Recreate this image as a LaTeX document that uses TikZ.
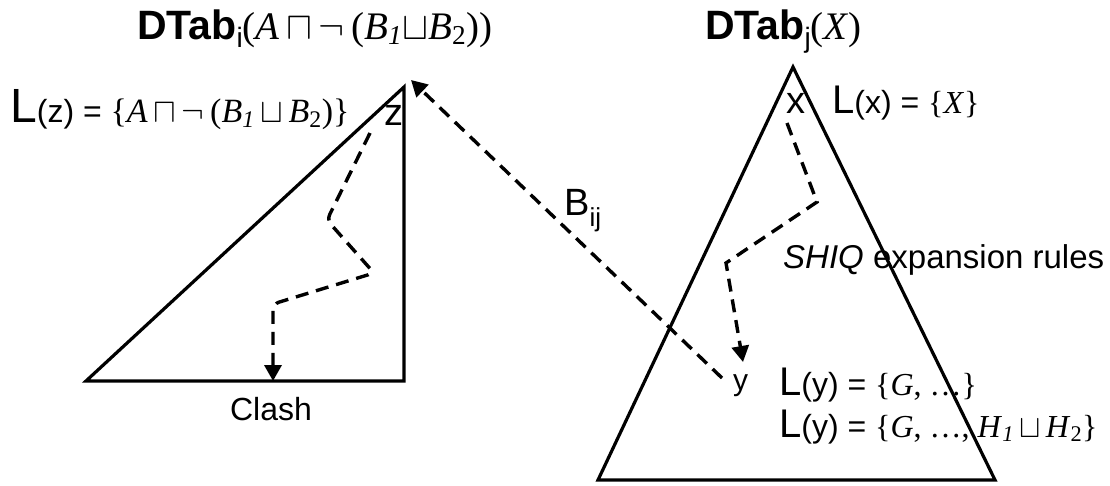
\RequirePackage{fix-cm}
\documentclass[tikz,border=0pt]{standalone}
\usepackage{fontspec}
\usepackage{amssymb}
\setmainfont{Liberation Sans}
\newfontfamily\tms{Liberation Serif}
\usetikzlibrary{arrows.meta}
\newcommand{\fs}[1]{\fontsize{#1}{#1}\selectfont}
\begin{document}
\begin{tikzpicture}[x=1pt,y=-1pt,
  solidline/.style={line width=3.2pt, line join=miter},
  dashline/.style={line width=3.4pt, dash pattern=on 13pt off 8pt, -{Triangle[length=16pt,width=17pt]}},
  lbl/.style={inner sep=0pt, anchor=base west}]
\useasboundingbox (0,0) rectangle (1110,485);
% triangles
\draw[solidline] (86,381) -- (404,381) -- (404,87) -- cycle;
\draw[solidline] (793,67) -- (598,480) -- (995,480) -- cycle;
% labels
\node[lbl] (ti) at (137,39) {\fs{41}\bfseries DTab\raisebox{-8pt}{\fs{28}\mdseries i}\mdseries\fs{39}\tms(\textit{A}\,$\sqcap$\,$\neg$\,(\textit{B}\textsubscript{\textit{1}}$\sqcup$\textit{B}\textsubscript{2}))};
\node[lbl] (tj) at (705,39) {\fs{41}\bfseries DTab\raisebox{-8pt}{\fs{28}\mdseries j}\mdseries\fs{39}\tms(\textit{X})};
\node[lbl] (lz) at (10,122) {\fs{48}L\fs{32}(z) = \fs{34}\tms\{\textit{A}\,$\sqcap$\,$\neg$\,(\textit{B}\textsubscript{\textit{1}}\,$\sqcup$\,\textit{B}\textsubscript{2})\}};
\node[lbl] (z) at (384,125) {\fs{38}z};
\node[lbl] (x) at (786,113) {\fs{38}x};
\node[lbl] (lx) at (832,113) {\fs{40}L\fs{32}(x) = \fs{32}\tms\{\textit{X}\}};
\node[lbl] (bij) at (564,215) {\fs{38}B\raisebox{-11pt}{\fs{26}ij}};
\node[lbl] (rules) at (783,268) {\fs{33}\textit{SHIQ} expansion rules};
\node[lbl] (y) at (733,390) {\fs{30}y};
\node[lbl] (ly1) at (779,395) {\fs{40}L\fs{32}(y) = \tms\{\textit{G}, \ldots\}};
\node[lbl] (ly2) at (779,437) {\fs{40}L\fs{32}(y) = \tms\{\textit{G}, \ldots, \textit{H}\textsubscript{\textit{1}}\,$\sqcup$\,\textit{H}\textsubscript{2}\}};
\node[inner sep=0pt, anchor=base] (clash) at (271,420) {\fs{32}Clash};
% connectors
\coordinate (zs) at (370,133);
\coordinate (zend) at (273,381);
\draw[dashline, rounded corners=6pt] (zs) -- (327,220) -- (374,273) -- (273,304) -- (zend);
\coordinate (xs) at (787,123);
\coordinate (xend) at (743,362);
\draw[dashline] (xs) -- (817,202) -- (726,263) -- (xend);
\coordinate (bs) at (722,378);
\coordinate (btip) at (411,80);
\draw[dashline] (bs) -- (btip);
\end{tikzpicture}
\end{document}
